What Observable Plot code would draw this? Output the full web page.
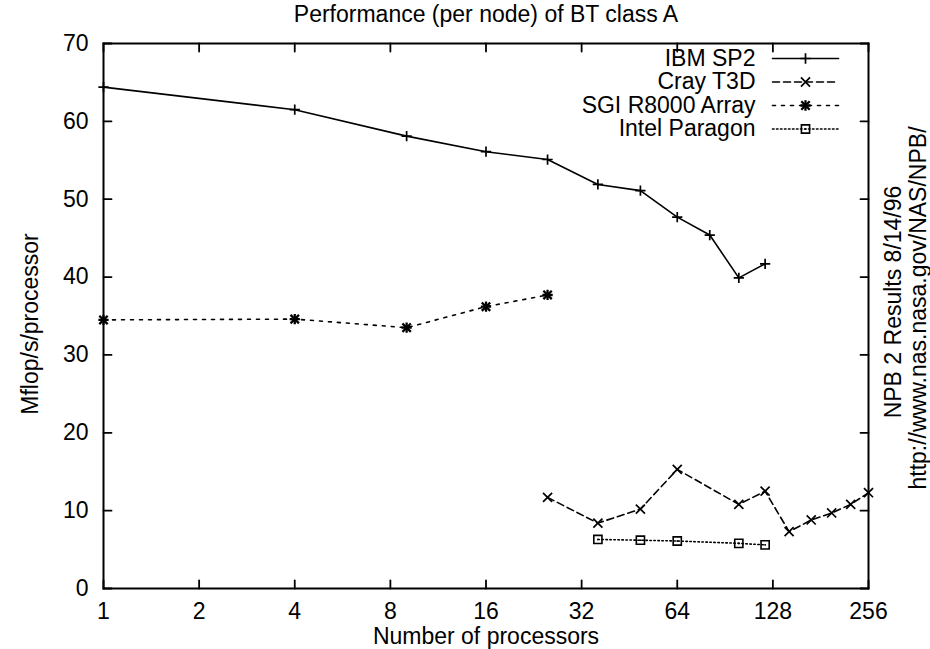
<!DOCTYPE html>
<html><head><meta charset="utf-8">
<script src="https://cdn.jsdelivr.net/npm/d3@7"></script>
<script src="https://cdn.jsdelivr.net/npm/@observablehq/plot@0.6"></script>
<style>body{margin:0;background:#fff} #chart svg{display:block}</style>
</head><body><div id="chart"></div>
<script>
// ---- data ----
const title = "Performance (per node) of BT class A";
const xLabel = "Number of processors";
const yLabel = "Mflop/s/processor";
const sideNote = ["NPB 2 Results 8/14/96", "http://www.nas.nasa.gov/NAS/NPB/"];
const xTicks = [1, 2, 4, 8, 16, 32, 64, 128, 256];
const yTicks = [0, 10, 20, 30, 40, 50, 60, 70];
const seriesNames = ["IBM SP2", "Cray T3D", "SGI R8000 Array", "Intel Paragon"];

const ibmProcs = [1, 4, 9, 16, 25, 36, 49, 64, 81, 100, 121];
const ibmMflops = [64.4, 61.5, 58.1, 56.1, 55.1, 51.9, 51.1, 47.7, 45.4, 39.9, 41.7];

const crayProcs = [25, 36, 49, 64, 100, 121, 144, 169, 196, 225, 256];
const crayMflops = [11.7, 8.4, 10.2, 15.3, 10.8, 12.5, 7.3, 8.8, 9.7, 10.8, 12.3];

const sgiProcs = [1, 4, 9, 16, 25];
const sgiMflops = [34.5, 34.6, 33.5, 36.2, 37.7];

const intelProcs = [36, 49, 64, 100, 121];
const intelMflops = [6.3, 6.2, 6.1, 5.8, 5.6];

// ---- build tables ----
const toRows = (ps, vs) => ps.map((p, i) => ({p, v: vs[i]}));
const series = [
  {name: seriesNames[0], rows: toRows(ibmProcs, ibmMflops), dash: null, marker: "plus"},
  {name: seriesNames[1], rows: toRows(crayProcs, crayMflops), dash: "7,4", marker: "times"},
  {name: seriesNames[2], rows: toRows(sgiProcs, sgiMflops), dash: "3,6", marker: "star"},
  {name: seriesNames[3], rows: toRows(intelProcs, intelMflops), dash: "1.5,2.5", marker: "box"}
];

const ink = "black";
const lineShape = {draw(ctx, l) { ctx.moveTo(0, 0); ctx.lineTo(0, -l); }};

function markerMarks(data, kind, pos) {
  const base = {...pos, stroke: ink, fill: "none"};
  if (kind === "plus") return [Plot.dot(data, {...base, symbol: "plus", r: 3.4, strokeWidth: 1.7})];
  if (kind === "times") return [Plot.dot(data, {...base, symbol: "times", r: 4.2, strokeWidth: 1.7})];
  if (kind === "star") return [
    Plot.dot(data, {...base, symbol: "plus", r: 3.4, strokeWidth: 2.3}),
    Plot.dot(data, {...base, symbol: "times", r: 3.9, strokeWidth: 2.3})
  ];
  return [
    Plot.dot(data, {...base, symbol: "square2", r: 5.2, strokeWidth: 1.6}),
    Plot.dot(data, {...pos, symbol: "square", r: 0.9, fill: ink, stroke: "none"})
  ];
}

const marks = [];
// frame and inward ticks (mirrored, gnuplot style)
marks.push(Plot.frame({stroke: ink, strokeWidth: 2}));
const tickOpts = {length: 8, anchor: "start", shape: lineShape, stroke: ink, strokeWidth: 1.8};
marks.push(Plot.vectorX(xTicks, {x: d => d, frameAnchor: "bottom", rotate: 0, ...tickOpts}));
marks.push(Plot.vectorX(xTicks, {x: d => d, frameAnchor: "top", rotate: 180, ...tickOpts}));
marks.push(Plot.vectorY(yTicks, {y: d => d, frameAnchor: "left", rotate: 90, ...tickOpts}));
marks.push(Plot.vectorY(yTicks, {y: d => d, frameAnchor: "right", rotate: -90, ...tickOpts}));

// axes labels
marks.push(Plot.axisX({ticks: xTicks, tickSize: 0, tickPadding: 14, tickFormat: d => String(d), label: null}));
marks.push(Plot.axisY({ticks: yTicks, tickSize: 0, tickPadding: 15, tickFormat: d => String(d), label: null}));

// data
for (const s of series) {
  marks.push(Plot.line(s.rows, {x: "p", y: "v", stroke: ink, strokeWidth: 1.6, strokeDasharray: s.dash}));
  marks.push(...markerMarks(s.rows, s.marker, {x: "p", y: "v"}));
}

// legend (top right, inside the frame)
series.forEach((s, i) => {
  const dy = 15 + i * 23.5;
  marks.push(Plot.text([s.name], {frameAnchor: "top-right", dx: -113, dy, textAnchor: "end", lineAnchor: "middle", fill: ink}));
  marks.push(Plot.vector([s.name], {frameAnchor: "top-right", dx: -96, dy, rotate: 90, length: 66, anchor: "start",
    shape: lineShape, stroke: ink, strokeWidth: 1.6, strokeDasharray: s.dash}));
  marks.push(...markerMarks([s.name], s.marker, {frameAnchor: "top-right", dx: -63, dy}));
});

// titles
marks.push(Plot.text([title], {frameAnchor: "top", dy: -29, lineAnchor: "middle", textAnchor: "middle", fill: ink}));
marks.push(Plot.text([xLabel], {frameAnchor: "bottom", dy: 48, lineAnchor: "middle", textAnchor: "middle", fill: ink}));
marks.push(Plot.text([yLabel], {frameAnchor: "left", dx: -73, dy: 8, rotate: -90, lineAnchor: "middle", textAnchor: "middle", fill: ink}));
marks.push(Plot.text([sideNote[0]], {frameAnchor: "right", dx: 25, dy: -14, rotate: -90, lineAnchor: "middle", textAnchor: "middle", fill: ink}));
marks.push(Plot.text([sideNote[1]], {frameAnchor: "right", dx: 50, dy: -8, rotate: -90, lineAnchor: "middle", textAnchor: "middle", fill: ink}));

const chart = Plot.plot({
  width: 930,
  height: 649,
  marginLeft: 103,
  marginRight: 62,
  marginTop: 43,
  marginBottom: 61,
  x: {type: "log", base: 2, domain: [1, 256]},
  y: {type: "linear", domain: [0, 70]},
  style: {fontFamily: "'Liberation Sans', Arial, Helvetica, sans-serif", fontSize: "23px", color: ink, background: "white"},
  marks
});
document.getElementById("chart").appendChild(chart);
</script>
</body></html>
